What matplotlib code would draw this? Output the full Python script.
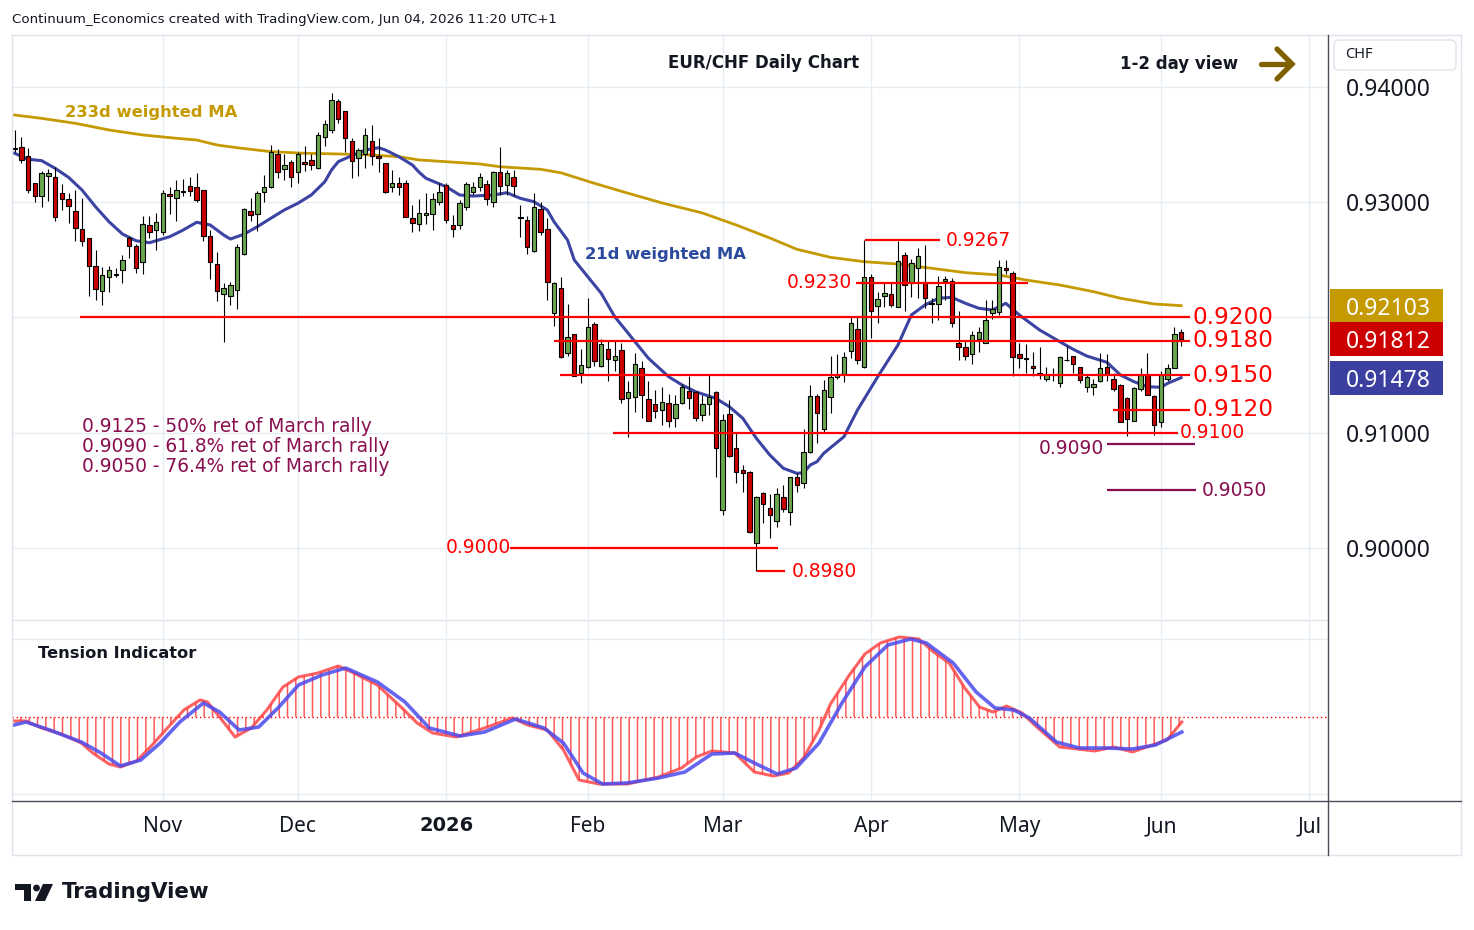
import numpy as np
import pandas as pd
import matplotlib
matplotlib.use('Agg')
import matplotlib.pyplot as plt
from matplotlib.patches import Rectangle, FancyBboxPatch, Circle, Polygon

plt.rcParams['font.family'] = ['DejaVu Sans']
plt.rcParams['hatch.linewidth'] = 1.1

# trading days on the chart (no bar on Dec 25 and Jan 1)
dates = pd.bdate_range('2025-10-02', '2026-06-04')
dates = dates[~dates.isin(pd.to_datetime(['2025-12-25', '2026-01-01']))]

opens = [
    .9347, .9348, .9340, .9317, .9305, .9323, .9322, .9308, .9303, .9292,
    .9277, .9269, .9245, .9223, .9235, .9238, .9241, .9269, .9262, .9248,
    .9280, .9276, .9274, .9307, .9304, .9309, .9314, .9313, .9311, .9271,
    .9246, .9220, .9219, .9224, .9255, .9292, .9290, .9309, .9313, .9342,
    .9329, .9335, .9326, .9335, .9337, .9330, .9357, .9363, .9388, .9379,
    .9353, .9338, .9342, .9353, .9340, .9334, .9313, .9317, .9317, .9286,
    .9281, .9289, .9290, .9300, .9315, .9280, .9280, .9296, .9309, .9313,
    .9316, .9300, .9326, .9315, .9322, .9287, .9285, .9258, .9294, .9277,
    .9204, .9226, .9169, .9186, .9152, .9157, .9194, .9158, .9173, .9163,
    .9172, .9130, .9131, .9156, .9129, .9125, .9120, .9126, .9113, .9126,
    .9136, .9135, .9115, .9125, .9135, .9033, .9116, .9087, .9068, .9066,
    .9004, .9048, .9035, .9023, .9044, .9031, .9062, .9056, .9083, .9132,
    .9103, .9131, .9148, .9151, .9171, .9190, .9157, .9235, .9210, .9219,
    .9220, .9209, .9254, .9230, .9243, .9231, .9213, .9212, .9232, .9232,
    .9178, .9174, .9168, .9181, .9178, .9204, .9205, .9243, .9239, .9168,
    .9165, .9158, .9152, .9147, .9150, .9143, .9163, .9167, .9157, .9140,
    .9140, .9145, .9157, .9147, .9141, .9130, .9110, .9138, .9150, .9132,
    .9109, .9147, .9156, .9187]
highs = [
    .9363, .9357, .9347, .9317, .9327, .9329, .9331, .9316, .9308, .9311,
    .9304, .9269, .9259, .9244, .9245, .9243, .9254, .9271, .9264, .9288,
    .9288, .9291, .9311, .9313, .9319, .9320, .9322, .9325, .9311, .9276,
    .9257, .9230, .9231, .9264, .9295, .9304, .9310, .9324, .9350, .9346,
    .9342, .9337, .9344, .9349, .9342, .9361, .9371, .9395, .9390, .9379,
    .9356, .9347, .9364, .9367, .9356, .9334, .9328, .9322, .9319, .9298,
    .9303, .9308, .9308, .9317, .9317, .9289, .9302, .9318, .9318, .9325,
    .9319, .9327, .9348, .9328, .9328, .9298, .9288, .9308, .9300, .9286,
    .9231, .9235, .9212, .9186, .9173, .9217, .9196, .9181, .9180, .9180,
    .9178, .9145, .9169, .9162, .9145, .9137, .9140, .9134, .9133, .9142,
    .9149, .9136, .9133, .9151, .9136, .9116, .9128, .9100, .9072, .9067,
    .9045, .9049, .9047, .9052, .9055, .9062, .9065, .9103, .9141, .9134,
    .9146, .9167, .9168, .9170, .9200, .9200, .9267, .9238, .9222, .9230,
    .9230, .9266, .9257, .9251, .9260, .9263, .9217, .9236, .9236, .9234,
    .9206, .9180, .9188, .9192, .9215, .9215, .9250, .9250, .9240, .9178,
    .9177, .9170, .9174, .9157, .9156, .9167, .9175, .9167, .9157, .9151,
    .9147, .9169, .9168, .9152, .9142, .9131, .9140, .9156, .9169, .9133,
    .9154, .9160, .9192, .9190]
lows = [
    .9344, .9334, .9308, .9300, .9296, .9301, .9284, .9293, .9282, .9266,
    .9262, .9219, .9215, .9211, .9222, .9235, .9230, .9252, .9239, .9238,
    .9269, .9259, .9272, .9290, .9284, .9305, .9305, .9300, .9266, .9233,
    .9214, .9179, .9211, .9207, .9254, .9284, .9275, .9300, .9312, .9321,
    .9319, .9313, .9317, .9327, .9328, .9329, .9349, .9360, .9369, .9344,
    .9321, .9323, .9330, .9332, .9326, .9308, .9309, .9306, .9287, .9274,
    .9275, .9281, .9276, .9298, .9282, .9270, .9277, .9293, .9306, .9310,
    .9298, .9296, .9306, .9306, .9305, .9270, .9255, .9257, .9272, .9215,
    .9193, .9165, .9167, .9149, .9143, .9156, .9158, .9157, .9145, .9154,
    .9126, .9096, .9118, .9113, .9110, .9113, .9107, .9105, .9105, .9125,
    .9121, .9110, .9110, .9115, .9062, .9029, .9079, .9056, .9049, .9013,
    .8980, .9022, .9009, .9018, .9031, .9020, .9049, .9052, .9082, .9091,
    .9100, .9117, .9147, .9144, .9165, .9160, .9156, .9182, .9195, .9209,
    .9209, .9209, .9206, .9218, .9217, .9208, .9195, .9198, .9215, .9192,
    .9163, .9163, .9160, .9170, .9178, .9199, .9202, .9238, .9149, .9156,
    .9152, .9149, .9147, .9145, .9145, .9140, .9162, .9152, .9143, .9135,
    .9133, .9144, .9145, .9136, .9109, .9097, .9110, .9136, .9133, .9098,
    .9105, .9145, .9156, .9175]
closes = [
    .9346, .9337, .9311, .9305, .9325, .9325, .9287, .9303, .9297, .9278,
    .9266, .9245, .9225, .9237, .9241, .9237, .9250, .9262, .9243, .9281,
    .9274, .9283, .9308, .9305, .9311, .9310, .9310, .9302, .9271, .9248,
    .9223, .9226, .9228, .9261, .9294, .9289, .9308, .9313, .9344, .9326,
    .9332, .9322, .9342, .9333, .9332, .9358, .9368, .9389, .9372, .9356,
    .9336, .9345, .9358, .9340, .9338, .9309, .9317, .9313, .9287, .9282,
    .9291, .9291, .9303, .9309, .9285, .9277, .9299, .9316, .9313, .9322,
    .9303, .9326, .9314, .9325, .9314, .9286, .9261, .9296, .9274, .9231,
    .9230, .9166, .9183, .9149, .9159, .9192, .9162, .9177, .9164, .9167,
    .9129, .9135, .9160, .9133, .9110, .9119, .9127, .9110, .9125, .9140,
    .9130, .9113, .9125, .9131, .9087, .9111, .9080, .9066, .9065, .9014,
    .9044, .9038, .9029, .9047, .9034, .9062, .9055, .9083, .9132, .9117,
    .9137, .9148, .9150, .9166, .9195, .9163, .9235, .9206, .9216, .9221,
    .9211, .9249, .9228, .9247, .9253, .9217, .9212, .9227, .9233, .9195,
    .9174, .9167, .9185, .9187, .9198, .9207, .9244, .9241, .9166, .9165,
    .9164, .9156, .9150, .9151, .9150, .9166, .9163, .9160, .9146, .9148,
    .9142, .9156, .9151, .9138, .9109, .9112, .9139, .9150, .9133, .9107,
    .9150, .9156, .9186, .91812]

# 21d weighted MA, read at some bars
ma21_idx = [0, 2, 4, 6, 8, 10, 12, 14, 16, 18, 20, 23, 25, 27, 29, 31, 32, 34,
            36, 38, 40, 42, 44, 46, 47, 48, 50, 52, 54, 55, 57, 59, 60, 61, 64,
            66, 68, 71, 73, 75, 77, 79, 80, 82, 83, 85, 87, 89, 91, 92, 94, 97,
            99, 101, 104, 106, 108, 110, 112, 114, 116, 117, 118, 119, 120, 123,
            125, 128, 131, 133, 135, 137, 139, 141, 143, 145, 147, 149, 152, 155,
            157, 159, 162, 164, 166, 168, 170, 171, 173]
ma21_vals = [.93425, .93373, .93361, .93295, .93216, .93106, .92961, .92831,
             .92724, .92666, .92649, .92701, .92759, .92826, .92803, .92716,
             .92681, .92722, .92788, .92861, .92933, .92991, .93063, .93178,
             .93280, .93352, .93404, .93453, .93473, .93453, .93395, .93323,
             .93260, .93208, .93135, .93063, .93054, .93063, .93083, .93034,
             .93005, .92933, .92831, .92672, .92499, .92354, .92210, .92007,
             .91863, .91790, .91646, .91486, .91414, .91356, .91298, .91226,
             .91125, .90952, .90807, .90692, .90648, .90653, .90720, .90749,
             .90822, .90966, .91197, .91486, .91761, .92022, .92108, .92167,
             .92175, .92123, .92080, .92065, .92123, .92022, .91892, .91790,
             .91724, .91666, .91611, .91501, .91443, .91400, .91394, .91429,
             .91478]

# 233d weighted MA
ma233_idx = [0, 4, 9, 14, 19, 24, 27, 30, 33, 38, 43, 48, 53, 57, 60, 64, 69,
             72, 78, 81, 86, 91, 96, 102, 107, 112, 116, 121, 126, 131, 136,
             141, 146, 150, 155, 160, 164, 169, 173]
ma233_vals = [.93757, .93728, .93685, .93627, .93584, .93555, .93540, .93497,
              .93473, .93439, .93425, .93419, .93410, .93395, .93367, .93352,
              .93332, .93308, .93286, .93256, .93164, .93078, .92994, .92907,
              .92803, .92690, .92592, .92522, .92484, .92464, .92427, .92389,
              .92369, .92325, .92282, .92224, .92167, .92117, .92103]

# tension indicator (fast red, slow blue)
tens_red_x = [-0.7, 1.7, 4.0, 6.9, 9.9, 11.6, 14.0, 15.7, 18.1, 20.4, 22.8, 25.1,
              27.5, 28.6, 30.4, 32.7, 35.1, 37.4, 39.8, 42.1, 45.0, 48.0, 50.3,
              53.8, 57.3, 59.7, 62.0, 65.5, 69.7, 73.8, 76.1, 79.0, 81.4, 83.7,
              86.7, 90.9, 95.5, 98.9, 101.1, 103.4, 106.8, 109.7, 112.5, 114.8,
              117.0, 119.3, 121.0, 123.8, 126.1, 128.4, 131.2, 134.1, 136.3,
              138.6, 140.9, 143.1, 145.1, 147.1, 149.4, 151.6, 155.0, 160.2,
              163.0, 165.8, 168.7, 170.9, 173.1]
tens_red = [-0.04, -0.04, -0.11, -0.17, -0.26, -0.36, -0.47, -0.50, -0.44, -0.28,
            -0.10, 0.07, 0.17, 0.15, 0.00, -0.20, -0.11, 0.07, 0.30, 0.40, 0.44,
            0.51, 0.44, 0.32, 0.10, -0.06, -0.16, -0.20, -0.11, -0.01, -0.08,
            -0.13, -0.33, -0.63, -0.67, -0.67, -0.60, -0.51, -0.40, -0.34, -0.36,
            -0.55, -0.59, -0.56, -0.41, -0.13, 0.13, 0.42, 0.63, 0.74, 0.80, 0.78,
            0.65, 0.54, 0.29, 0.10, 0.05, 0.11, 0.04, -0.10, -0.30, -0.34, -0.30,
            -0.35, -0.28, -0.23, -0.05]
tens_blue_x = [-0.7, 1.7, 5.2, 9.9, 12.8, 15.7, 18.7, 21.6, 24.5, 28.0, 30.4,
               33.3, 36.2, 39.2, 42.1, 45.6, 49.1, 53.8, 57.9, 61.5, 66.1, 69.7,
               74.3, 78.5, 81.4, 84.3, 87.2, 90.8, 95.5, 99.4, 103.4, 106.8,
               109.7, 113.1, 115.9, 119.3, 122.7, 126.1, 129.5, 132.9, 135.2,
               139.2, 142.6, 145.4, 148.2, 150.5, 154.5, 157.9, 161.9, 165.8,
               169.2, 173.1]
tens_blue = [-0.09, -0.05, -0.13, -0.25, -0.36, -0.49, -0.43, -0.26, -0.05, 0.14,
             0.05, -0.13, -0.10, 0.10, 0.32, 0.42, 0.49, 0.35, 0.15, -0.11, -0.19,
             -0.15, -0.02, -0.11, -0.26, -0.56, -0.67, -0.66, -0.61, -0.55, -0.37,
             -0.36, -0.46, -0.57, -0.51, -0.26, 0.14, 0.50, 0.72, 0.78, 0.74, 0.54,
             0.25, 0.09, 0.07, -0.01, -0.25, -0.31, -0.31, -0.32, -0.28, -0.15]

# drawn levels: value, first bar, last bar
red_levels = [(0.9267, 126.1, 137.2), (0.9230, 124.8, 150.3),
              (0.9200, 9.7, 174.3), (0.9180, 80.0, 174.3),
              (0.9150, 80.9, 174.3), (0.9120, 162.9, 174.3),
              (0.9100, 88.7, 172.5), (0.9000, 73.5, 113.2),
              (0.8980, 110.1, 114.3)]
fib_levels = [(0.9090, 162.0, 175.0), (0.9050, 162.0, 175.2)]
fib_notes = ['0.9125 - 50% ret of March rally',
             '0.9090 - 61.8% ret of March rally',
             '0.9050 - 76.4% ret of March rally']

price_ticks = [0.90, 0.91, 0.92, 0.93, 0.94]
# 0.92000 sits under the last-value boxes, so it gets no label
price_labels = ['0.90000', '0.91000', '', '0.93000', '0.94000']

# colours
GREEN = '#6aa84f'
RED = '#cc0000'
LVL = '#ff0000'
MAROON = '#880e4f'
GOLD = '#c49a00'
BLUE = '#3b44a3'
GRID = '#e6eef4'
TXT = '#131722'

W, H = 1474, 930
fig = plt.figure(figsize=(W / 100, H / 100), dpi=100)


def rect(l, t, r, b):
    return [l / W, 1 - b / H, (r - l) / W, (b - t) / H]


def bx(px):
    # pixel column -> bar position
    return (px - 14.6) / 6.743


ax = fig.add_axes(rect(12, 35, 1328, 619))
ax2 = fig.add_axes(rect(12, 620, 1328, 800))
deco = fig.add_axes([0, 0, 1, 1], zorder=10)
deco.set_xlim(0, W)
deco.set_ylim(H, 0)
deco.axis('off')

x = np.arange(len(dates))
o, h, l, c = map(np.array, (opens, highs, lows, closes))
up = c >= o

# candles
ax.vlines(x, l, h, color='black', lw=0.8, zorder=3)
ax.bar(x, np.maximum(np.abs(c - o), 0.00003), bottom=np.minimum(o, c),
       width=0.66, color=np.where(up, GREEN, RED), edgecolor='black',
       linewidth=0.8, zorder=4)

# moving averages
ax.plot(ma233_idx, ma233_vals, color=GOLD, lw=2.0, zorder=2)
ax.plot(ma21_idx, ma21_vals, color=BLUE, lw=2.2, zorder=2)

# levels
for v, a, b in red_levels:
    ax.hlines(v, a, b, color=LVL, lw=1.6, zorder=5)
for v, a, b in fib_levels:
    ax.hlines(v, a, b, color=MAROON, lw=1.6, zorder=5)

kw = dict(color=LVL, va='center', zorder=6)
ax.text(bx(946), 0.9267, '0.9267', fontsize=13.5, **kw)
ax.text(bx(852), 0.9230, '0.9230', fontsize=13.5, ha='right', **kw)
for v in [0.9200, 0.9180, 0.9150, 0.9120]:
    ax.text(bx(1192), v, f'{v:.4f}', fontsize=16.7, **kw)
ax.text(bx(1180), 0.9100, '0.9100', fontsize=13.5, **kw)
ax.text(bx(511), 0.9000, '0.9000', fontsize=13.5, ha='right', **kw)
ax.text(bx(792), 0.8980, '0.8980', fontsize=13.5, **kw)
ax.annotate('0.9090', (bx(1104), 0.9090), xytext=(0, -3),
            textcoords='offset points', ha='right', va='center',
            color=MAROON, fontsize=13.5, zorder=6)
ax.text(bx(1202), 0.9050, '0.9050', color=MAROON, fontsize=13.5,
        va='center', zorder=6)

# tension indicator
ax2.fill_between(tens_red_x, 0, tens_red, facecolor='none',
                 edgecolor='#ff5a5a', hatch='||', linewidth=0, zorder=2)
ax2.plot(tens_red_x, tens_red, color='#ff3b3b', lw=2.2, alpha=0.8, zorder=3)
ax2.plot(tens_blue_x, tens_blue, color='#4a4aee', lw=2.6, alpha=0.85, zorder=4)
ax2.axhline(0, color=LVL, lw=1.0, ls=(0, (1, 2)), zorder=1)

# axes, ticks, grid
xlim = (bx(12), bx(1328))
months = dates.to_period('M')
month_pos = [i for i in range(1, len(dates)) if months[i] != months[i - 1]]
month_pos.append(len(dates) + len(pd.bdate_range('2026-06-05', '2026-06-30')))
month_lab = ['Nov', 'Dec', '2026', 'Feb', 'Mar', 'Apr', 'May', 'Jun', 'Jul']

for a in (ax, ax2):
    a.set_xlim(*xlim)
    a.set_xticks(month_pos)
    a.grid(True, color=GRID, lw=1)
    a.set_axisbelow(True)
    for s in a.spines.values():
        s.set_visible(False)
    a.tick_params(length=0)

ax.set_ylim(0.893839, 0.944512)
ax.set_yticks(price_ticks)
ax.yaxis.tick_right()
ax.set_yticklabels(price_labels, fontfamily='Noto Sans', fontsize=16.5,
                   color=TXT)
ax.tick_params(axis='y', pad=13)
ax.tick_params(axis='x', labelbottom=False)

ax2.set_ylim(-0.83, 0.97)
ax2.set_yticks([-0.77, 0.78])
ax2.tick_params(axis='y', labelleft=False)
ax2.set_xticklabels(month_lab, fontfamily='Noto Sans', fontsize=15, color=TXT)
ax2.tick_params(axis='x', pad=11.5)
for t in ax2.get_xticklabels():
    if t.get_text() == '2026':
        t.set_fontfamily('DejaVu Sans')
        t.set_fontweight('bold')
        t.set_fontsize(14)


def price_to_px(v):
    disp = ax.transData.transform((0, v))
    return deco.transData.inverted().transform(disp)[1]


# last value boxes
for v, col in [(ma233_vals[-1], GOLD), (closes[-1], RED), (ma21_vals[-1], '#3b40a0')]:
    yp = price_to_px(v)
    deco.add_patch(Rectangle((1330, yp - 17), 113, 34, facecolor=col,
                             edgecolor='none'))
    deco.text(1346, yp, f'{v:.5f}', color='white', fontfamily='Noto Sans',
              fontsize=16.5, va='center_baseline')

# frame
deco.plot([12, 1461, 1461, 12, 12], [35, 35, 855, 855, 35], color='#e0e3eb', lw=1)
deco.plot([12, 1328], [619.5, 619.5], color='#e0e3eb', lw=1)
deco.plot([1328.5, 1328.5], [35, 855], color='#4a4d57', lw=1)
deco.plot([12, 1461], [800.5, 800.5], color='#4a4d57', lw=1)

# CHF box
deco.add_patch(FancyBboxPatch((1334, 40), 122, 30,
                              boxstyle='round,pad=0,rounding_size=5',
                              facecolor='white', edgecolor='#e0e3eb', lw=1))
deco.text(1345, 55, 'CHF', fontfamily='Noto Sans', fontsize=10.5,
          color=TXT, va='center')

# texts
deco.text(12, 19, 'Continuum_Economics created with TradingView.com, '
          'Jun 04, 2026 11:20 UTC+1', fontsize=9.6, color=TXT, va='center')
deco.text(764, 63, 'EUR/CHF Daily Chart', fontsize=12, fontweight='bold',
          color=TXT, ha='center', va='center')
deco.text(1120, 64, '1-2 day view', fontsize=12, fontweight='bold',
          color=TXT, va='center')
deco.plot([1261, 1291], [64, 64], color='#7f6000', lw=3.8,
          solid_capstyle='round')
deco.plot([1277, 1292, 1277], [49, 64, 79], color='#7f6000', lw=3.8,
          solid_capstyle='round', solid_joinstyle='miter')
deco.text(65, 112, '233d weighted MA', fontsize=11.8, fontweight='bold',
          color=GOLD, va='center')
deco.text(585, 254, '21d weighted MA', fontsize=11.8, fontweight='bold',
          color='#2b4a9e', va='center')
for k, s in enumerate(fib_notes):
    deco.text(82, 426 + 20 * k, s, fontsize=13.4, color=MAROON, va='center')
deco.text(38, 653, 'Tension Indicator', fontsize=11.7, fontweight='bold',
          color=TXT, va='center')

# TradingView logo
deco.add_patch(Rectangle((15, 884), 16, 6, color=TXT, lw=0))
deco.add_patch(Rectangle((24, 884), 7, 17, color=TXT, lw=0))
deco.add_patch(Circle((36.5, 888), 3.4, color=TXT, lw=0))
deco.add_patch(Polygon([(43, 884), (53, 884), (45, 901), (35, 901)],
                       closed=True, color=TXT, lw=0))
deco.text(62, 892, 'TradingView', fontsize=15.4, fontweight='bold',
          color=TXT, va='center')

fig.savefig('out.png', dpi=100)
